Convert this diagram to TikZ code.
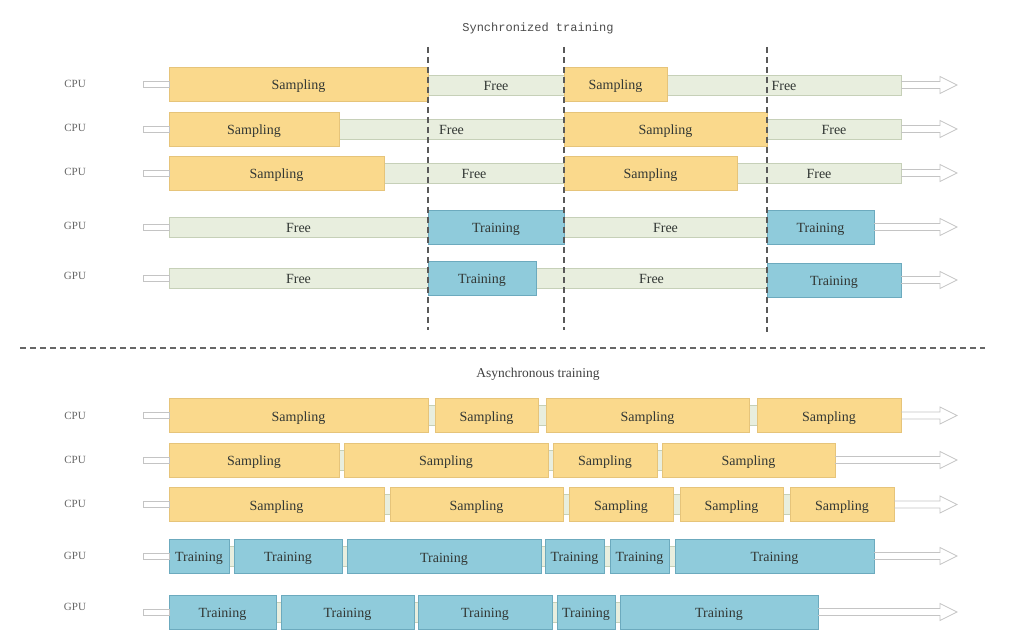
\documentclass[tikz,border=0pt]{standalone}
\usepackage{fontspec}
\setmainfont{Liberation Serif}
\setmonofont{Liberation Mono}
\usetikzlibrary{calc}
\definecolor{sampfill}{RGB}{250,217,140}
\definecolor{sampline}{RGB}{230,196,122}
\definecolor{trainfill}{RGB}{143,203,219}
\definecolor{trainline}{RGB}{108,170,190}
\definecolor{freefill}{RGB}{232,238,222}
\definecolor{freeline}{RGB}{198,208,184}
\definecolor{inktext}{RGB}{50,55,52}
\definecolor{flowline}{RGB}{196,196,196}
% open arrow from a box to the tip line
\newcommand{\flowarrow}[1]{%
  \draw[flow] ($(#1.east)+(0,-3.5)$) -- ($(#1.east -| tip)+(-17,-3.5)$) -- ($(#1.east -| tip)+(-17,-8.5)$)
    -- (#1.east -| tip) -- ($(#1.east -| tip)+(-17,8.5)$) -- ($(#1.east -| tip)+(-17,3.5)$) -- ($(#1.east)+(0,3.5)$);}
% small tube in front of a row
\newcommand{\tube}[1]{%
  \draw[flow] ($(#1.west)+(-26,-3)$) rectangle ($(#1.west)+(0,3)$);}

\begin{document}
\begin{tikzpicture}[x=1pt, y=-1pt]
        \tikzset{box/.style={anchor=west, minimum height=34, inner sep=0, outer sep=0, text height=13, text depth=2,
                             text=inktext, font=\fontsize{14}{14}\selectfont},
                 samp/.style={box, draw=sampline, fill=sampfill},
                 train/.style={box, draw=trainline, fill=trainfill},
                 free/.style={box, minimum height=20, draw=freeline, fill=freefill},
                 unit/.style={text=black!60, font=\fontsize{11}{11}\selectfont},
                 flow/.style={draw=flowline, line width=0.8},
                 sync/.style={draw=black!65, line width=1.4, dash pattern=on 6 off 4}}
        \useasboundingbox (0,0) rectangle (1013,639);
        \coordinate (tip) at (957,0);
        %
        \draw (538,28) node[text=black!70, font=\ttfamily\fontsize{12}{12}\selectfont](T1){Synchronized training};
        \draw (75,84)  node[unit](u1){CPU};
        \draw (75,128) node[unit](u2){CPU};
        \draw (75,172) node[unit](u3){CPU};
        \draw (75,226) node[unit](u4){GPU};
        \draw (75,276) node[unit](u5){GPU};
        %
        \draw (428,85)  node[free, minimum width=136](f11){Free};
        \draw (667,85)  node[free, minimum width=234](f12){Free};
        \draw (169,84.5) node[samp, minimum width=259](s11){Sampling};
        \draw (564,84.5) node[samp, minimum width=103](s12){Sampling};
        %
        \draw (339,129) node[free, minimum width=225](f21){Free};
        \draw (767,129) node[free, minimum width=134](f22){Free};
        \draw (169,129) node[samp, minimum width=170](s21){Sampling};
        \draw (564,129) node[samp, minimum width=203](s22){Sampling};
        %
        \draw (384,173) node[free, minimum width=180](f31){Free};
        \draw (737,173) node[free, minimum width=164](f32){Free};
        \draw (169,173) node[samp, minimum width=215](s31){Sampling};
        \draw (564,173) node[samp, minimum width=173](s32){Sampling};
        %
        \draw (169,227) node[free, minimum width=259](g11){Free};
        \draw (564,227) node[free, minimum width=203](g12){Free};
        \draw (428,227) node[train, minimum width=136](t11){Training};
        \draw (767,227) node[train, minimum width=107](t12){Training};
        %
        \draw (169,278) node[free, minimum width=259](g21){Free};
        \draw (536,278) node[free, minimum width=231](g22){Free};
        \draw (428,278.5) node[train, minimum width=108](t21){Training};
        \draw (767,280) node[train, minimum width=134](t22){Training};
        %
        \draw[sync] (428,47) -- (428,330);
        \draw[sync] (564,47) -- (564,330);
        \draw[sync] (767,47) -- (767,332);
        %
        \tube{s11} \tube{s21} \tube{s31} \tube{g11} \tube{g21}
        \flowarrow{f12} \flowarrow{f22} \flowarrow{f32} \flowarrow{t12} \flowarrow{t22}
        %
        \draw[black!60, line width=1.2, dash pattern=on 6 off 4] (20,348) -- (985,348);
        %
        \draw (538,374) node[text=black!75, font=\fontsize{13.5}{13.5}\selectfont](T2){Asynchronous training};
        \draw (75,416) node[unit](v1){CPU};
        \draw (75,460) node[unit](v2){CPU};
        \draw (75,504) node[unit](v3){CPU};
        \draw (75,556) node[unit](v4){GPU};
        \draw (75,607) node[unit](v5){GPU};
        %
        \draw (169,415.5) node[free, minimum width=732](b1){};
        \draw (169,415.5) node[samp, minimum width=259](a11){Sampling};
        \draw (435,415.5) node[samp, minimum width=103](a12){Sampling};
        \draw (546,415.5) node[samp, minimum width=203](a13){Sampling};
        \draw (757,415.5) node[samp, minimum width=144](a14){Sampling};
        %
        \draw (169,460) node[free, minimum width=666](b2){};
        \draw (169,460) node[samp, minimum width=170](a21){Sampling};
        \draw (344,460) node[samp, minimum width=204](a22){Sampling};
        \draw (553,460) node[samp, minimum width=104](a23){Sampling};
        \draw (662,460) node[samp, minimum width=173](a24){Sampling};
        %
        \draw (169,504.5) node[free, minimum width=725](b3){};
        \draw (169,504.5) node[samp, minimum width=215](a31){Sampling};
        \draw (390,504.5) node[samp, minimum width=173](a32){Sampling};
        \draw (569,504.5) node[samp, minimum width=104](a33){Sampling};
        \draw (680,504.5) node[samp, minimum width=103](a34){Sampling};
        \draw (790,504.5) node[samp, minimum width=104](a35){Sampling};
        %
        \draw (169,556) node[free, minimum width=705](b4){};
        \draw (169,556) node[train, minimum width=60](a41){Training};
        \draw (234,556) node[train, minimum width=108](a42){Training};
        \draw (347,556.5) node[train, minimum width=194](a43){Training};
        \draw (545,556) node[train, minimum width=59](a44){Training};
        \draw (610,556) node[train, minimum width=59](a45){Training};
        \draw (675,556) node[train, minimum width=199](a46){Training};
        %
        \draw (169,612) node[free, minimum width=649](b5){};
        \draw (169,612) node[train, minimum width=107](a51){Training};
        \draw (281,612) node[train, minimum width=133](a52){Training};
        \draw (418,612) node[train, minimum width=134](a53){Training};
        \draw (557,612) node[train, minimum width=58](a54){Training};
        \draw (620,612) node[train, minimum width=198](a55){Training};
        %
        \tube{b1} \tube{b2} \tube{b3} \tube{b4} \tube{b5}
        \flowarrow{a14} \flowarrow{a24} \flowarrow{a35} \flowarrow{a46} \flowarrow{a55}
    \end{tikzpicture}
\end{document}
